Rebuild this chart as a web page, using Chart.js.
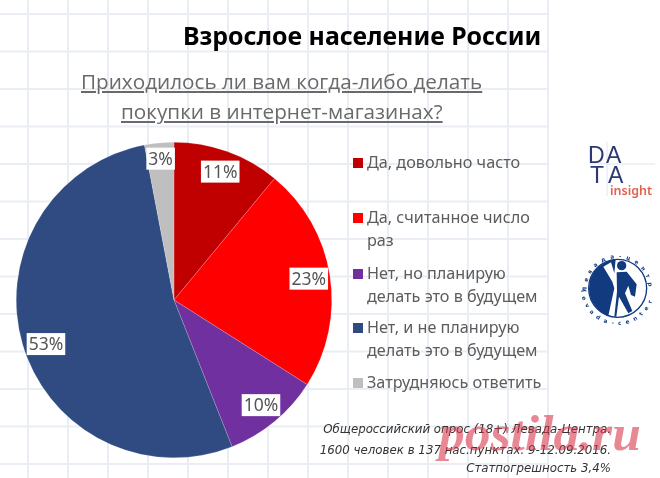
<!DOCTYPE html>
<html lang="ru"><head><meta charset="utf-8">
<script src="https://cdn.jsdelivr.net/npm/chart.js@4"></script>
<style>
html,body{margin:0;padding:0;background:#fff;width:660px;height:478px;overflow:hidden}
#wrap{position:relative;width:660px;height:478px;overflow:hidden;filter:blur(.35px)}
#grid{position:absolute;left:0;top:0;width:549px;height:478px;
background-image:linear-gradient(to right,#e9eef5 2px,transparent 2px),linear-gradient(to bottom,#e9eef5 2px,transparent 2px);
background-size:40px 37.5px;background-position:27px 13px}
canvas{position:absolute;left:0;top:0}
.t{position:absolute;white-space:nowrap;font-family:"Open Sans",sans-serif}
#title{left:183px;top:18px;font-size:24.9px;font-weight:700;color:#000;font-family:"Noto Sans",sans-serif;}
.sub{font-size:20.7px;color:#6a6a6a;text-decoration:underline;text-decoration-thickness:1.5px;text-underline-offset:2px;}
.leg{font-size:16.2px;color:#5c5c5c;line-height:23px;left:367px;font-family:"Noto Sans",sans-serif;}
.sw{position:absolute;left:353px;width:10px;height:10px}
.foot{font-size:11.8px;font-style:italic;color:#333;right:49px;font-family:"DejaVu Sans",sans-serif;}
#wm{left:439px;top:403px;font-family:"Liberation Serif",serif;font-weight:700;font-style:italic;font-size:51.5px;color:rgba(215,50,70,.58)}
#logos{position:absolute;left:0;top:0}
</style></head><body>
<div id="wrap">
<div id="grid"></div>
<canvas id="c" width="660" height="478"></canvas>
<div class="t" id="title">Взрослое население России</div>
<div class="t sub" id="s1" style="left:81px;top:67px">Приходилось ли вам когда-либо делать</div>
<div class="t sub" id="s2" style="left:121px;top:97px">покупки в интернет-магазинах?</div>
<div id="legend"></div>
<div class="t foot" style="top:422px">Общероссийский опрос (18+) Левада-Центра.</div>
<div class="t foot" style="top:443px">1600 человек в 137 нас.пунктах. 9-12.09.2016.</div>
<div class="t foot" style="top:461px">Статпогрешность 3,4%</div>
<svg id="logos" width="660" height="478" xmlns="http://www.w3.org/2000/svg">
 <line x1="590" y1="164" x2="655" y2="164" stroke="#dfe5ee"/>
 <line x1="607" y1="142" x2="607" y2="196" stroke="#e2e6f0"/>
 <g font-family="Liberation Sans,sans-serif" fill="#2b3a75" font-size="23">
  <text x="588" y="163">D</text><text x="606" y="163">A</text>
  <text x="590" y="183">T</text><text x="608" y="183">A</text>
 </g>
 <text x="610" y="195" font-family="Noto Sans,sans-serif" font-weight="600" font-size="12.5" fill="#e2604e">insight</text>
 <g transform="translate(575 245) scale(.3333)">
  <circle cx="128" cy="130" r="87" fill="#fff" stroke="#123a7e" stroke-width="4"/>
  <path d="M128 43 A87 87 0 0 0 100 212 L118 130 L112 110 L85 65 L108 52 L118 85 L122 43 Z" fill="#123a7e"/>
  <circle cx="140" cy="62" r="14" fill="#123a7e"/>
  <path d="M125 82 L155 80 L185 118 L180 155 L168 150 L160 122 L150 145 L172 198 L160 205 L132 155 L124 215 L118 215 L126 140 Z" fill="#123a7e"/>
  <defs><path id="ring" d="M36 146 A93 93 0 1 1 220 146"/><path id="ring2" d="M18 130 A110 110 0 0 0 238 130"/></defs>
  <text font-family="DejaVu Sans,sans-serif" font-weight="700" font-size="17" letter-spacing="14" fill="#123a7e"><textPath href="#ring" startOffset="6">Левада-центр</textPath></text>
  <text font-family="DejaVu Sans,sans-serif" font-weight="700" font-size="17" letter-spacing="14" fill="#123a7e"><textPath href="#ring2" startOffset="6">levada-center</textPath></text>
 </g>
</svg>
<div class="t" id="wm">postila.ru</div>
</div>
<script>
const categories=["Да, довольно часто","Да, считанное число раз","Нет, но планирую делать это в будущем","Нет, и не планирую делать это в будущем","Затрудняюсь ответить"];
const legendLines=[["Да, довольно часто"],["Да, считанное число","раз"],["Нет, но планирую","делать это в будущем"],["Нет, и не планирую","делать это в будущем"],["Затрудняюсь ответить"]];
const values=[11,23,10,53,3];
const colors=["#c00000","#ff0000","#7030a0","#2f4b82","#bfbfbf"];
const legendTops=[151,206,262,316,371];

const lg=document.getElementById('legend');
legendLines.forEach((lines,i)=>{
  const s=document.createElement('div');s.className='sw';s.style.top=(legendTops[i]+7)+'px';s.style.background=colors[i];lg.appendChild(s);
  const d=document.createElement('div');d.className='t leg';d.style.top=legendTops[i]+'px';d.innerHTML=lines.join('<br>');lg.appendChild(d);
});

const labelPlugin={id:'outsideEndLabels',afterDatasetsDraw(chart){
  const ctx=chart.ctx,meta=chart.getDatasetMeta(0),ds=chart.data.datasets[0];
  ctx.save();ctx.font='17.5px "Noto Sans",sans-serif';ctx.textAlign='center';ctx.textBaseline='middle';
  meta.data.forEach((a,i)=>{
    const p=a.getProps(['x','y','startAngle','endAngle','outerRadius']);
    const m=(p.startAngle+p.endAngle)/2;
    const rr=p.outerRadius*(i===4?0.9:0.865);
    const x=p.x+Math.cos(m)*rr+(i===3?3:0),y=p.y+Math.sin(m)*rr+(i===3?6:0);
    const txt=ds.data[i]+'%';const w=ctx.measureText(txt).width+4;
    ctx.fillStyle='#fff';ctx.fillRect(x-w/2,y-11,w,22);
    ctx.fillStyle='#555';ctx.fillText(txt,x,y+1);
  });ctx.restore();
}};

new Chart(document.getElementById('c'),{
  type:'pie',
  data:{labels:categories,datasets:[{data:values,backgroundColor:colors,borderWidth:0.5,borderColor:'rgba(255,255,255,.35)'}]},
  options:{responsive:false,animation:false,
    layout:{padding:{left:16,right:328,top:142,bottom:20}},
    plugins:{legend:{display:false},tooltip:{enabled:false},title:{display:false}}},
  plugins:[labelPlugin]
});
</script>
</body></html>
